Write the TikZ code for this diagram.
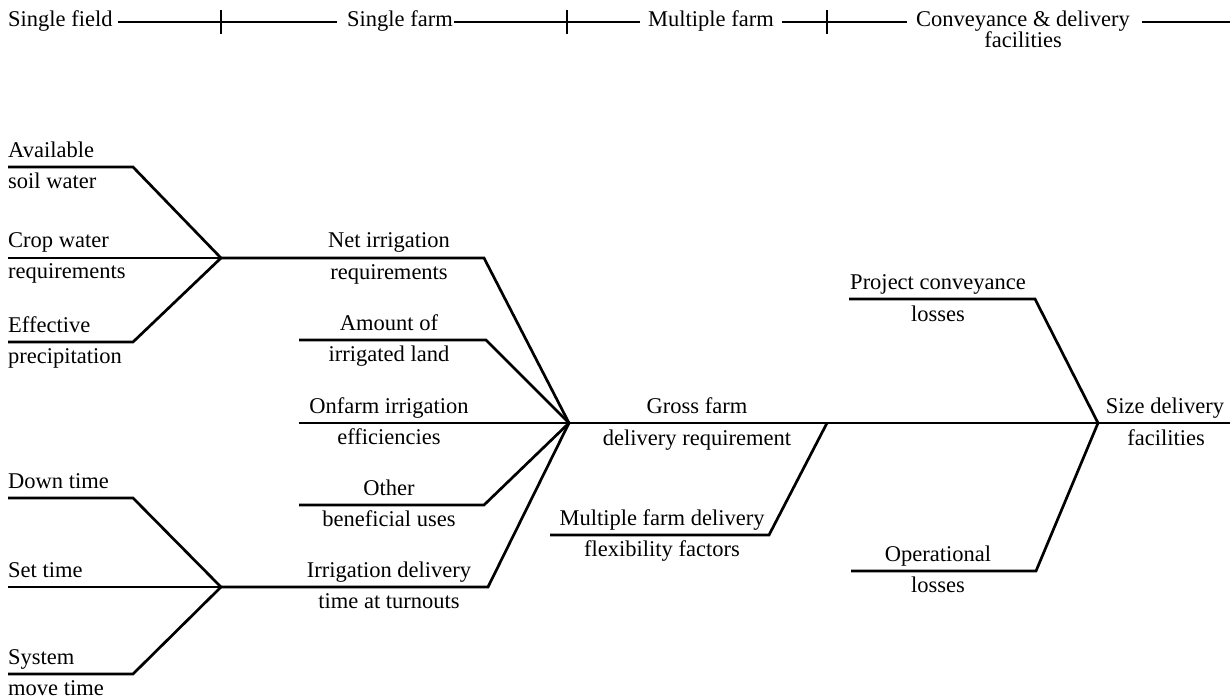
\documentclass[tikz,border=0pt]{standalone}
\usepackage{fontspec}
\setmainfont{Liberation Serif}
\begin{document}
\begin{tikzpicture}[x=1pt,y=-1pt,
  ln/.style={line width=2.7pt, line join=miter, line cap=butt},
  lbl/.style={font=\fontsize{22.5}{21}\selectfont, inner sep=0pt, anchor=base},
  lbll/.style={lbl, anchor=base west}]
\useasboundingbox (0,0) rectangle (1230,699);

% ---------- header ----------
\node[lbll] (h1) at (8,26) {Single field};
\node[lbll] (h2) at (347,26) {Single farm};
\node[lbll] (h3) at (648,26) {Multiple farm};
\node[lbl, anchor=north, align=center] (h4) at (1023,10.6) {Conveyance \& delivery\\facilities};
\coordinate (a1) at (118,22); \coordinate (a2) at (337,22);
\coordinate (b1) at (454,22); \coordinate (b2) at (640,22);
\coordinate (c1) at (782,22); \coordinate (c2) at (907,22);
\coordinate (d1) at (1142,22); \coordinate (d2) at (1230,22);
\draw[ln] (a1) -- (a2);
\draw[ln] (b1) -- (b2);
\draw[ln] (c1) -- (c2);
\draw[ln] (d1) -- (d2);
\coordinate (t1a) at (221,10); \coordinate (t1b) at (221,34);
\coordinate (t2a) at (567,10); \coordinate (t2b) at (567,34);
\coordinate (t3a) at (827,10); \coordinate (t3b) at (827,34);
\draw[ln] (t1a) -- (t1b);
\draw[ln] (t2a) -- (t2b);
\draw[ln] (t3a) -- (t3b);

% ---------- coordinates ----------
\coordinate (J1) at (221,258);
\coordinate (J2) at (221,587);
\coordinate (G) at (569,423);
\coordinate (K) at (827,423);
\coordinate (Z) at (1098,423);
\coordinate (R) at (1230,423);

\coordinate (av1) at (8,167);   \coordinate (av2) at (133,167);
\coordinate (cw1) at (8,258);
\coordinate (ef1) at (8,342);   \coordinate (ef2) at (133,342);
\coordinate (ni2) at (484,258);
\coordinate (am1) at (299,340); \coordinate (am2) at (486,340);
\coordinate (on1) at (299,423);
\coordinate (ot1) at (299,505); \coordinate (ot2) at (484,505);
\coordinate (id2) at (488,587);
\coordinate (dt1) at (8,498);   \coordinate (dt2) at (133,498);
\coordinate (st1) at (8,587);
\coordinate (sm1) at (8,674);   \coordinate (sm2) at (133,674);
\coordinate (mf1) at (550,535); \coordinate (mf2) at (769,535);
\coordinate (pc1) at (849,299); \coordinate (pc2) at (1035,299);
\coordinate (op1) at (851,571); \coordinate (op2) at (1036,571);

% ---------- lines ----------
\draw[ln] (av1) -- (av2) -- (J1);
\draw[ln] (cw1) -- (J1);
\draw[ln] (ef1) -- (ef2) -- (J1);
\draw[ln] (J1) -- (ni2) -- (G);
\draw[ln] (am1) -- (am2) -- (G);
\draw[ln] (on1) -- (G);
\draw[ln] (ot1) -- (ot2) -- (G);
\draw[ln] (dt1) -- (dt2) -- (J2);
\draw[ln] (st1) -- (J2);
\draw[ln] (sm1) -- (sm2) -- (J2);
\draw[ln] (J2) -- (id2) -- (G);
\draw[ln] (G) -- (K) -- (Z) -- (R);
\draw[ln] (mf1) -- (mf2) -- (K);
\draw[ln] (pc1) -- (pc2) -- (Z);
\draw[ln] (op1) -- (op2) -- (Z);

% ---------- labels ----------
\node[lbll] (l1) at (8,157) {Available};
\node[lbll] (l2) at (8,188) {soil water};
\node[lbll] (l3) at (8,247) {Crop water};
\node[lbll] (l4) at (8,278) {requirements};
\node[lbll] (l5) at (8,332) {Effective};
\node[lbll] (l6) at (8,363) {precipitation};
\node[lbll] (l7) at (8,488) {Down time};
\node[lbll] (l8) at (8,577) {Set time};
\node[lbll] (l9) at (8,664) {System};
\node[lbll] (l10) at (8,695) {move time};

\node[lbl] (m1) at (389,247) {Net irrigation};
\node[lbl] (m2) at (389,279) {requirements};
\node[lbl] (m3) at (389,330) {Amount of};
\node[lbl] (m4) at (389,361) {irrigated land};
\node[lbl] (m5) at (389,413) {Onfarm irrigation};
\node[lbl] (m6) at (389,444) {efficiencies};
\node[lbl] (m7) at (389,495) {Other};
\node[lbl] (m8) at (389,526) {beneficial uses};
\node[lbl] (m9) at (389,577) {Irrigation delivery};
\node[lbl] (m10) at (389,608) {time at turnouts};

\node[lbl] (g1) at (697,413) {Gross farm};
\node[lbl] (g2) at (697,445) {delivery requirement};
\node[lbl] (f1) at (662,525) {Multiple farm delivery};
\node[lbl] (f2) at (662,556) {flexibility factors};
\node[lbl] (p1) at (938,289) {Project conveyance};
\node[lbl] (p2) at (938,321) {losses};
\node[lbl] (o1) at (938,561) {Operational};
\node[lbl] (o2) at (938,592) {losses};
\node[lbl] (s1) at (1165,413) {Size delivery};
\node[lbl] (s2) at (1166,445) {facilities};
\end{tikzpicture}
\end{document}
